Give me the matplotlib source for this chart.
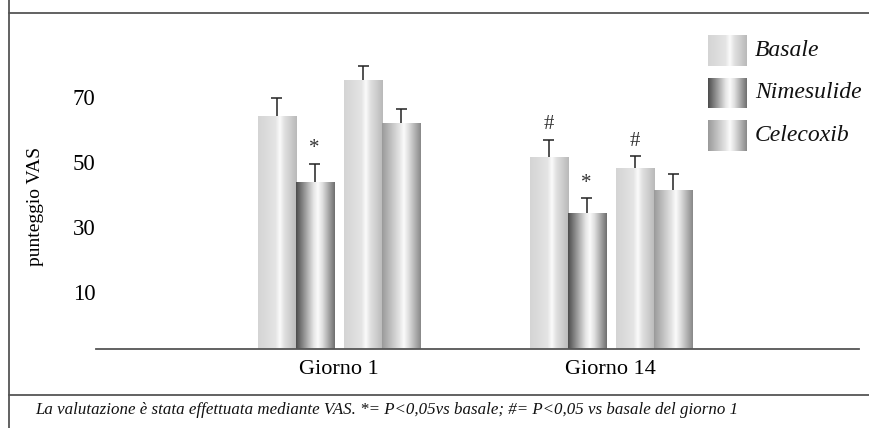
import matplotlib
matplotlib.use("Agg")
import matplotlib.pyplot as plt
import numpy as np
from matplotlib.colors import LinearSegmentedColormap
from matplotlib.lines import Line2D

# Data
groups = ["Giorno 1", "Giorno 14"]
series = ["Basale", "Nimesulide", "Basale", "Celecoxib"]
values = [[64.2, 43.8, 75.2, 62.0],
          [51.5, 34.3, 48.1, 41.4]]
errors = [[5.5, 5.6, 4.3, 4.3],
          [5.3, 4.6, 3.7, 4.9]]
marks = [["", "*", "", ""],
         ["#", "*", "#", ""]]
yticks = [10, 30, 50, 70]
legend_labels = ["Basale", "Nimesulide", "Celecoxib"]
footnote = ("La valutazione è stata effettuata mediante VAS. *= P<0,05vs basale; "
            "#= P<0,05 vs basale del giorno 1")

plt.rcParams["font.family"] = ["Liberation Serif", "DejaVu Serif"]


def shade(left, right):
    # cylinder-like horizontal shading with a highlight slightly right of centre
    return LinearSegmentedColormap.from_list(
        "s", [(0.0, left), (0.45, "#e4e4e4"), (0.56, "#fbfbfb"),
              (0.68, "#e0e0e0"), (1.0, right)])


cmaps = {
    "Basale": shade("#d4d4d4", "#b9b9b9"),
    "Nimesulide": shade("#4c4c4c", "#6e6e6e"),
    "Celecoxib": shade("#9a9a9a", "#888888"),
}
grad = np.linspace(0, 1, 256).reshape(1, -1)

fig = plt.figure(figsize=(8.69, 4.28), dpi=100)
ax = fig.add_axes([96 / 869, 0.1846, (859 - 96) / 869, 0.785])

ymin, ymax = -7.5, 95.8
w = 0.14
cap = 0.041
offsets = [-0.229, -0.089, 0.089, 0.229]

for gi, g in enumerate(groups):
    for si, name in enumerate(series):
        x = gi + offsets[si]
        v = values[gi][si]
        e = errors[gi][si]
        bar = ax.bar(x, v - ymin, bottom=ymin, width=w, color="none",
                     edgecolor="none", zorder=2)[0]
        im = ax.imshow(grad, cmap=cmaps[name], aspect="auto", zorder=2,
                       extent=[x - w / 2, x + w / 2, ymin, v])
        im.set_clip_path(bar)
        # upper error bar only
        ax.vlines(x, v, v + e, color="#222222", lw=1.1, zorder=3)
        ax.hlines(v + e, x - cap / 2, x + cap / 2, color="#222222", lw=1.1,
                  zorder=3)
        if marks[gi][si]:
            ax.annotate(marks[gi][si], (x, v + e),
                        xytext=(0, 4), textcoords="offset points",
                        ha="center", va="bottom", fontsize=15, color="#333333")

ax.set_xlim(-0.893, 1.912)
ax.set_ylim(ymin, ymax)
ax.set_xticks(range(len(groups)))
ax.set_xticklabels(groups, fontsize=16)
ax.set_yticks(yticks)
ax.set_yticklabels([str(t) for t in yticks], fontsize=16.5)
ax.tick_params(length=0, pad=0.5)
ax.tick_params(axis="x", pad=8)
for s in ["top", "right", "left"]:
    ax.spines[s].set_visible(False)
ax.spines["bottom"].set_color("#555555")
ax.spines["bottom"].set_linewidth(1.3)
ax.set_ylabel("punteggio VAS", fontsize=14)
ax.yaxis.set_label_coords(-0.068, 0.423)

# legend swatches
for i, (lab, key) in enumerate(zip(legend_labels, ["Basale", "Nimesulide", "Celecoxib"])):
    top = 35 + i * 42.5
    sw = fig.add_axes([708 / 869, 1 - (top + 31) / 428, 39 / 869, 31 / 428])
    sw.imshow(grad, cmap=cmaps[key], aspect="auto")
    sw.axis("off")
    fig.text(755 / 869, 1 - (top + 15.5) / 428, lab, fontsize=17,
             style="italic", va="center", ha="left", color="#111111")

# frame lines
fc = "#555555"
fig.add_artist(Line2D([9 / 869, 1], [1 - 13 / 428] * 2, color=fc, lw=1.3))
fig.add_artist(Line2D([9 / 869, 1], [1 - 395 / 428] * 2, color=fc, lw=1.3))
fig.add_artist(Line2D([9 / 869] * 2, [0, 1], color=fc, lw=1.3))

fig.text(35 / 869, 1 - 410 / 428, footnote, fontsize=12.2, style="italic",
         va="center", ha="left", color="#111111")

fig.savefig("out.png", dpi=100)
